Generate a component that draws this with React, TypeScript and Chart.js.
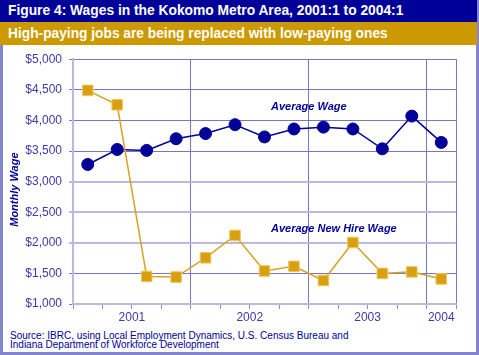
import React, { useEffect, useRef } from 'react';
import { Chart, registerables } from 'chart.js';

Chart.register(...registerables);

// ---- Data ----
const quarters = ['2001:1', '2001:2', '2001:3', '2001:4', '2002:1', '2002:2', '2002:3', '2002:4', '2003:1', '2003:2', '2003:3', '2003:4', '2004:1'];
const averageWage = [3280, 3525, 3510, 3700, 3785, 3930, 3730, 3860, 3890, 3860, 3535, 4070, 3640];
const newHireWage = [4490, 4255, 1450, 1440, 1755, 2120, 1540, 1615, 1385, 2005, 1500, 1525, 1410];
const yTickMin = 1000;
const yTickMax = 5000;
const yTickStep = 500;

const TITLE = 'Figure 4: Wages in the Kokomo Metro Area, 2001:1 to 2004:1';
const SUBTITLE = 'High-paying jobs are being replaced with low-paying ones';
const SOURCE_1 = 'Source: IBRC, using Local Employment Dynamics, U.S. Census Bureau and';
const SOURCE_2 = 'Indiana Department of Workforce Development';

const FONT = '"Liberation Sans", Arial, Helvetica, sans-serif';
const NAVY = '#000099';
const GOLD = '#cc9900';
const LAVENDER = '#8484cc';
const TICK_TEXT = '#3a3aaa';
const GRID = '#7676c9';
const GRID_LIGHT = '#b9b9e2';

// derived year info
const yearOf = (q: string) => q.split(':')[0];
const years: string[] = [];
quarters.forEach((q) => { if (!years.includes(yearOf(q))) years.push(yearOf(q)); });
const yearCenters = new Map<number, string>();
const yearBoundaries: number[] = [];
years.forEach((y) => {
  const idx = quarters.map((q, i) => (yearOf(q) === y ? i : -1)).filter((i) => i >= 0);
  const first = idx[0];
  const last = idx[idx.length - 1];
  yearCenters.set((first + last + 1) / 2, y);
  yearBoundaries.push(last + 1);
});
const xTickValues = Array.from(new Set([
  ...quarters.map((_, i) => i),
  quarters.length,
  ...Array.from(yearCenters.keys()),
])).sort((a, b) => a - b);

const annotPlugin = {
  id: 'annotations',
  afterDatasetsDraw(chart: any) {
    const { ctx, scales, chartArea } = chart;
    const xs = scales.x;
    const ys = scales.y;
    ctx.save();
    ctx.fillStyle = NAVY;
    ctx.font = `italic bold 11px ${FONT}`;
    ctx.textAlign = 'left';
    ctx.textBaseline = 'middle';
    ctx.fillText('Average Wage', xs.getPixelForValue(6.72), ys.getPixelForValue(4225));
    ctx.fillText('Average New Hire Wage', xs.getPixelForValue(6.72), ys.getPixelForValue(2225));
    // y-axis title
    ctx.translate(15, (chartArea.top + chartArea.bottom) / 2 + 8);
    ctx.rotate(-Math.PI / 2);
    ctx.textAlign = 'center';
    ctx.fillText('Monthly Wage', 0, 0);
    ctx.restore();
  },
};

export default function App() {
  const canvasRef = useRef<HTMLCanvasElement | null>(null);

  useEffect(() => {
    if (!canvasRef.current) return;
    const chart = new Chart(canvasRef.current, {
      type: 'line',
      data: {
        datasets: [
          {
            label: 'Average New Hire Wage',
            data: newHireWage.map((v, i) => ({ x: i + 0.5, y: v })),
            borderColor: '#d8a320',
            borderWidth: 1.5,
            pointStyle: 'rect',
            pointRadius: 7.5,
            pointBackgroundColor: '#d8a010',
            pointBorderColor: '#f0c860',
            pointBorderWidth: 1,
            order: 0,
          },
          {
            label: 'Average Wage',
            data: averageWage.map((v, i) => ({ x: i + 0.5, y: v })),
            borderColor: NAVY,
            borderWidth: 1.5,
            pointStyle: 'circle',
            pointRadius: 6,
            pointBackgroundColor: NAVY,
            pointBorderColor: NAVY,
            pointBorderWidth: 1,
            order: 1,
          },
        ],
      },
      options: {
        animation: false,
        responsive: false,
        devicePixelRatio: 1,
        layout: { padding: { left: 0, right: 23, top: 12, bottom: 0 } },
        plugins: { legend: { display: false }, tooltip: { enabled: false } },
        scales: {
          x: {
            type: 'linear',
            min: 0,
            max: quarters.length,
            afterBuildTicks: (scale: any) => {
              scale.ticks = xTickValues.map((v) => ({ value: v }));
            },
            afterFit: (scale: any) => { scale.height = 21; },
            ticks: {
              autoSkip: false,
              maxRotation: 0,
              padding: 1,
              color: TICK_TEXT,
              font: { family: FONT, size: 12 },
              callback: (v: any) => yearCenters.get(Number(v)) ?? '',
            },
            grid: {
              color: (c: any) => (c.tick && yearBoundaries.includes(c.tick.value) ? GRID : 'rgba(0,0,0,0)'),
              tickColor: (c: any) => (c.tick && Number.isInteger(c.tick.value) ? '#8a8ad0' : 'rgba(0,0,0,0)'),
              tickLength: 5,
              lineWidth: 1,
            },
            border: { color: GRID_LIGHT, width: 2 },
          },
          y: {
            min: yTickMin,
            max: yTickMax,
            afterFit: (scale: any) => { scale.width = 73; },
            ticks: {
              stepSize: yTickStep,
              padding: 7,
              color: TICK_TEXT,
              font: { family: FONT, size: 12 },
              callback: (v: any) => '$' + Number(v).toLocaleString('en-US'),
            },
            grid: {
              color: (c: any) => (c.tick && [2000, 2500, 3000].includes(c.tick.value) ? GRID_LIGHT : GRID),
              lineWidth: (c: any) => (c.tick && [2000, 2500, 3000].includes(c.tick.value) ? 2 : 1),
              tickLength: 4,
            },
            border: { color: GRID_LIGHT, width: 2 },
          },
        },
      },
      plugins: [annotPlugin],
    } as any);
    return () => chart.destroy();
  }, []);

  return (
    <div style={{ position: 'fixed', left: 0, top: 0, width: 479, height: 355, background: '#fff', overflow: 'hidden' }}>
      <div style={{ position: 'absolute', left: 0, top: 0, width: 477, height: 22, background: NAVY, color: '#fff', font: `bold 13.8px ${FONT}`, lineHeight: '22px', paddingLeft: 8, boxSizing: 'border-box', whiteSpace: 'nowrap' }}>
        {TITLE}
      </div>
      <div style={{ position: 'absolute', left: 0, top: 22, width: 477, height: 23, background: GOLD, color: '#fff', font: `bold 13.75px ${FONT}`, lineHeight: '23px', paddingLeft: 8, boxSizing: 'border-box', whiteSpace: 'nowrap' }}>
        {SUBTITLE}
      </div>
      <div style={{ position: 'absolute', left: 477, top: 0, width: 2, height: 45, background: LAVENDER }} />
      <div style={{ position: 'absolute', left: 0, top: 45, width: 479, height: 310, borderLeft: `3px solid ${LAVENDER}`, borderRight: `3px solid ${LAVENDER}`, borderBottom: `3px solid ${LAVENDER}`, boxSizing: 'border-box' }} />
      <canvas ref={canvasRef} width={479} height={280} style={{ position: 'absolute', left: 0, top: 45, width: 479, height: 280 }} />
      <div style={{ position: 'absolute', left: 10, top: 331, color: NAVY, font: `10px ${FONT}`, lineHeight: '9px', whiteSpace: 'nowrap' }}>
        <div>{SOURCE_1}</div>
        <div>{SOURCE_2}</div>
      </div>
    </div>
  );
}
